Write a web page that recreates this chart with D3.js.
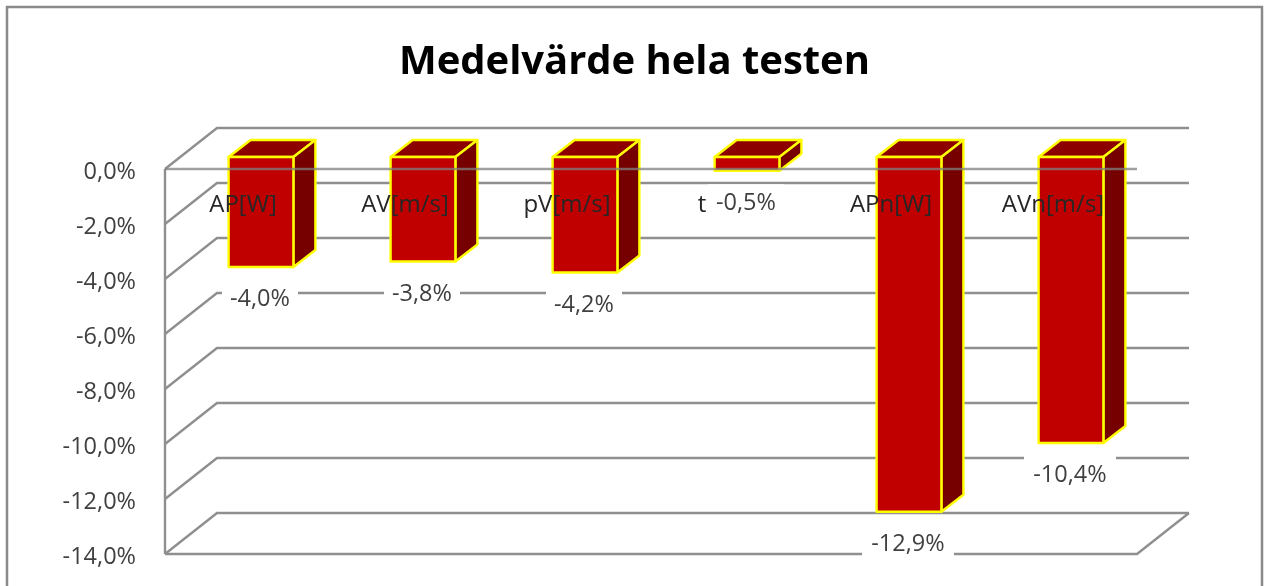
<!DOCTYPE html>
<html lang="sv">
<head>
    <meta charset="UTF-8">
    <title>Medelvärde hela testen</title>
    <script src="https://cdn.jsdelivr.net/npm/d3@7"></script>
    <style>
        body, html {
            margin: 0;
            padding: 0;
            background: #fff;
            overflow: hidden;
        }
        svg {
            display: block;
        }
        text {
            font-family: "Open Sans", Lato, sans-serif;
        }
    </style>
</head>
<body>
    <svg id="mainsvg"></svg>
    <script>
        // data
        const categories = ['AP[W]', 'AV[m/s]', 'pV[m/s]', 't', 'APn[W]', 'AVn[m/s]'];
        const values = [-4.0, -3.8, -4.2, -0.5, -12.9, -10.4];
        const tickValues = [0, -2, -4, -6, -8, -10, -12, -14];
        const chartTitle = 'Medelvärde hela testen';

        const width = 1264, height = 586;
        const svg = d3.select('svg').attr('width', width).attr('height', height);

        // wall depth and bar depth of the fake 3D
        const wall = { dx: 52, dy: -41 };
        const barOffset = { dx: 15, dy: -12 };
        const barDepth = { dx: 22, dy: -17 };
        const gridColor = '#8f8f8f';
        const labelSize = 23.5;

        const yScale = d3.scaleLinear().domain([0, -14]).range([169, 554]);
        const xScale = d3.scaleBand().domain(categories).range([165, 1137])
            .paddingInner(0.6).paddingOuter(0.3);
        const [x0, x1] = xScale.range();

        // comma decimals, plain hyphen instead of the d3 minus sign
        const locale = d3.formatLocale({ decimal: ',', thousands: '.', grouping: [3], currency: ['', ''], minus: '-' });
        const formatPercent = v => locale.format('.1f')(v) + '%';

        const defs = svg.append('defs');
        defs.append('filter').attr('id', 'soft')
            .append('feGaussianBlur').attr('stdDeviation', 0.4);

        const root = svg.append('g').attr('filter', 'url(#soft)');

        // outer frame
        root.append('path')
            .attr('d', `M7,${height + 5}V7H1262V${height + 5}`)
            .attr('fill', 'none')
            .attr('stroke', '#8a8a8a')
            .attr('stroke-width', 2.5);

        root.append('text')
            .attr('x', 634.5)
            .attr('y', 74)
            .attr('text-anchor', 'middle')
            .attr('font-size', 40)
            .attr('font-weight', 700)
            .attr('fill', '#000')
            .attr('textLength', 471)
            .text(chartTitle);

        // walls: back gridline plus diagonal to the front plane
        const gridGroup = root.append('g')
            .attr('fill', 'none')
            .attr('stroke', gridColor)
            .attr('stroke-width', 2.4);

        gridGroup.selectAll('path.grid').data(tickValues).enter().append('path')
            .attr('class', 'grid')
            .attr('d', d => `M${x0},${yScale(d)}L${x0 + wall.dx},${yScale(d) + wall.dy}H${x1 + wall.dx}`);

        // floor and left edge
        gridGroup.append('path')
            .attr('d', `M${x0},${yScale(-14)}H${x1}L${x1 + wall.dx},${yScale(-14) + wall.dy}`);
        gridGroup.append('path')
            .attr('d', `M${x0},${yScale(0)}V${yScale(-14)}`);

        // bars
        const barX = c => xScale(c) + barOffset.dx;
        const barTop = yScale(0) + barOffset.dy;
        const barBottom = v => yScale(v) + barOffset.dy;
        const bw = xScale.bandwidth();

        const bars = root.selectAll('g.bar').data(categories.map((c, i) => ({ c, v: values[i] })))
            .enter().append('g')
            .attr('class', 'bar')
            .attr('stroke', '#ffff00')
            .attr('stroke-width', 2.4)
            .attr('stroke-linejoin', 'round');

        bars.append('path')
            .attr('fill', '#8c0000')
            .attr('d', d => `M${barX(d.c)},${barTop}l${barDepth.dx},${barDepth.dy}h${bw}l${-barDepth.dx},${-barDepth.dy}Z`);

        bars.append('path')
            .attr('fill', '#760000')
            .attr('d', d => `M${barX(d.c) + bw},${barTop}l${barDepth.dx},${barDepth.dy}V${barBottom(d.v) + barDepth.dy}l${-barDepth.dx},${-barDepth.dy}Z`);

        bars.append('rect')
            .attr('fill', '#c00000')
            .attr('x', d => barX(d.c))
            .attr('y', barTop)
            .attr('width', bw)
            .attr('height', d => barBottom(d.v) - barTop);

        // zero line runs over the bars
        root.append('line')
            .attr('x1', x0).attr('x2', x1)
            .attr('y1', yScale(0)).attr('y2', yScale(0))
            .attr('stroke', '#808080')
            .attr('stroke-opacity', 0.75)
            .attr('stroke-width', 2.4);

        // y axis labels
        const yAxis = d3.axisLeft(yScale).tickValues(tickValues).tickSize(0).tickPadding(29)
            .tickFormat(formatPercent);
        const yAxisGroup = root.append('g')
            .attr('transform', `translate(${x0},2)`)
            .call(yAxis);
        yAxisGroup.select('.domain').remove();
        yAxisGroup.selectAll('text')
            .attr('font-size', labelSize)
            .attr('fill', '#3f3f3f')
            .style('font-family', '"Open Sans", Lato, sans-serif');

        // category labels sit in the plot, t is pushed left of its value label
        root.selectAll('text.cat').data(categories).enter().append('text')
            .attr('class', 'cat')
            .attr('x', d => xScale(d) + bw / 2 - 3 - (d === 't' ? 27 : 0))
            .attr('y', 212)
            .attr('text-anchor', 'middle')
            .attr('font-size', 24)
            .attr('fill', '#262626')
            .text(d => d);

        // value labels on white boxes, the two-digit ones are larger
        const labels = root.selectAll('g.val').data(categories.map((c, i) => ({ c, v: values[i] })))
            .enter().append('g')
            .attr('class', 'val')
            .attr('transform', d => `translate(${barX(d.c) + bw / 2 - 1},${barBottom(d.v) + 31})`);

        labels.append('rect')
            .attr('x', d => d.v <= -10 ? -46 : -38)
            .attr('y', d => d.v <= -10 ? -20 : -17.5)
            .attr('width', d => d.v <= -10 ? 92 : 76)
            .attr('height', d => d.v <= -10 ? 38 : 35)
            .attr('fill', '#fff');

        labels.append('text')
            .attr('text-anchor', 'middle')
            .attr('y', 8)
            .attr('font-size', labelSize)
            .attr('fill', '#3f3f3f')
            .text(d => formatPercent(d.v));
    </script>
</body>
</html>
